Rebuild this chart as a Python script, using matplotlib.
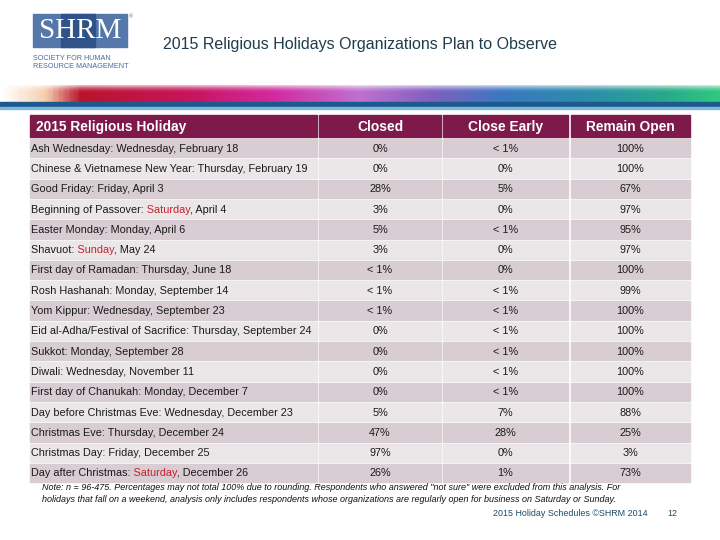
import matplotlib
matplotlib.use('Agg')

import numpy as np
import matplotlib.pyplot as plt
from matplotlib.patches import Rectangle
from matplotlib.colors import LinearSegmentedColormap
from matplotlib.transforms import Bbox, TransformedBbox

plt.rcParams['font.family'] = ['Liberation Sans', 'DejaVu Sans']

title = "2015 Religious Holidays Organizations Plan to Observe"
columns = ["2015 Religious Holiday", "Closed", "Close Early", "Remain Open"]

# holiday label split as (name, weekday, date); weekend days are shown in red
holiday_names = [
    "Ash Wednesday: ", "Chinese & Vietnamese New Year: ", "Good Friday: ",
    "Beginning of Passover: ", "Easter Monday: ", "Shavuot: ",
    "First day of Ramadan: ", "Rosh Hashanah: ", "Yom Kippur: ",
    "Eid al-Adha/Festival of Sacrifice: ", "Sukkot: ", "Diwali: ",
    "First day of Chanukah: ", "Day before Christmas Eve: ", "Christmas Eve: ",
    "Christmas Day: ", "Day after Christmas: ",
]
weekdays = [
    "Wednesday", "Thursday", "Friday", "Saturday", "Monday", "Sunday",
    "Thursday", "Monday", "Wednesday", "Thursday", "Monday", "Wednesday",
    "Monday", "Wednesday", "Thursday", "Friday", "Saturday",
]
dates = [
    ", February 18", ", February 19", ", April 3", ", April 4", ", April 6",
    ", May 24", ", June 18", ", September 14", ", September 23",
    ", September 24", ", September 28", ", November 11", ", December 7",
    ", December 23", ", December 24", ", December 25", ", December 26",
]
closed = ["0%", "0%", "28%", "3%", "5%", "3%", "< 1%", "< 1%", "< 1%", "0%",
          "0%", "0%", "0%", "5%", "47%", "97%", "26%"]
close_early = ["< 1%", "0%", "5%", "0%", "< 1%", "0%", "0%", "< 1%", "< 1%",
               "< 1%", "< 1%", "< 1%", "< 1%", "7%", "28%", "0%", "1%"]
remain_open = ["100%", "100%", "67%", "97%", "95%", "97%", "100%", "99%",
               "100%", "100%", "100%", "100%", "100%", "88%", "25%", "3%", "73%"]

note = ("Note: n = 96-475. Percentages may not total 100% due to rounding. Respondents who answered \"not sure\" were excluded from this analysis. For\n"
        "holidays that fall on a weekend, analysis only includes respondents whose organizations are regularly open for business on Saturday or Sunday.")
footer = "2015 Holiday Schedules \u00a9SHRM 2014"
page = "12"

fig = plt.figure(figsize=(7.2, 5.4), dpi=100)
ax = fig.add_axes([0, 0, 1, 1])
ax.set_xlim(0, 720)
ax.set_ylim(540, 0)
ax.axis('off')
renderer = fig.canvas.get_renderer()

# logo
ax.add_patch(Rectangle((33, 14), 94, 33, color='#5577aa'))
ax.add_patch(Rectangle((61, 14), 34, 33, color='#2f5289'))
ax.text(80, 31.5, "SHRM", color='white', fontsize=21, family='Liberation Serif',
        ha='center', va='center')
ax.text(129, 17, "\u00ae", color='#5577aa', fontsize=4, ha='left', va='center')
ax.text(33, 58, "SOCIETY FOR HUMAN", color='#4a6aa0', fontsize=5.2, va='center')
ax.text(33, 67, "RESOURCE MANAGEMENT", color='#4a6aa0', fontsize=5.2, va='center')

ax.text(163, 44, title, color='#1e3d4d', fontsize=11.5, va='center')

# coloured banner
banner_cols = [(0.0, '#ffffff'), (0.06, '#f6d0b0'), (0.11, '#b8142c'),
               (0.26, '#c8145c'), (0.38, '#d22aa0'), (0.50, '#c070d0'),
               (0.60, '#8060c0'), (0.70, '#3a78c0'), (0.83, '#2a90a8'),
               (0.93, '#28aa8a'), (1.0, '#30c880')]
cmap = LinearSegmentedColormap.from_list('banner', banner_cols)
gx = np.linspace(0, 1, 400)
gy = np.linspace(0, 1, 40)[:, None]
img = cmap(gx)[None, :, :3] * np.ones((40, 1, 1))
fade = np.clip(1 - gy / 0.45, 0, 1) ** 2 * 0.75
img = img * (1 - fade[..., None]) + fade[..., None]
ax.imshow(img, extent=(0, 720, 103, 85), aspect='auto', zorder=1)
ax.add_patch(Rectangle((0, 102), 720, 5, color='#1d5a8e', zorder=2))
ax.add_patch(Rectangle((0, 107), 720, 1.5, color='#7fb8d8', zorder=2))

# table geometry
col_left = [30, 319, 443, 571]
col_right = [317, 441, 568, 690]
head_top, head_h = 115, 22
row_top0, row_pitch, row_h = 139, 20.3, 18.3
fs = 7.8
black, red = '#1a1a1a', '#c8202c'

for c, name in enumerate(columns):
    ax.add_patch(Rectangle((col_left[c], head_top), col_right[c] - col_left[c],
                           head_h, color='#7d1a4b'))
    if c == 0:
        ax.text(col_left[c] + 6, head_top + head_h / 2 + 1, name, color='white',
                fontsize=9.9, fontweight='bold', va='center', ha='left')
    else:
        ax.text((col_left[c] + col_right[c]) / 2, head_top + head_h / 2 + 1, name,
                color='white', fontsize=9.9, fontweight='bold', va='center',
                ha='center')


def width(s):
    t = ax.text(0, 0, s, fontsize=fs)
    w = t.get_window_extent(renderer).width
    t.remove()
    return w


values = [closed, close_early, remain_open]
for r in range(len(holiday_names)):
    top = row_top0 + r * row_pitch
    fc = '#d8cdd2' if r % 2 == 0 else '#ebe6e8'
    for c in range(4):
        ax.add_patch(Rectangle((col_left[c], top), col_right[c] - col_left[c],
                               row_h, color=fc))
    yb = top + row_h / 2 + 3.5
    x0 = col_left[0] + 1
    label = holiday_names[r] + weekdays[r] + dates[r]
    if weekdays[r] in ("Saturday", "Sunday"):
        # same string drawn three times, clipped so the weekday shows in red
        xa = x0 + width(holiday_names[r].rstrip()) + 1.5
        xb = x0 + width(holiday_names[r] + weekdays[r]) + 0.5
        spans = [(x0 - 5, xa, black), (xa, xb, red), (xb, col_right[0], black)]
        for a, b, color in spans:
            t = ax.text(x0, yb, label, color=color, fontsize=fs,
                        va='baseline', ha='left')
            box = TransformedBbox(Bbox([[a, top], [b, top + row_h]]),
                                  ax.transData)
            t.set_clip_box(box)
            t.set_clip_on(True)
    else:
        ax.text(x0, yb, label, color=black, fontsize=fs, va='baseline',
                ha='left')
    for c in range(3):
        ax.text((col_left[c + 1] + col_right[c + 1]) / 2, yb, values[c][r],
                color=black, fontsize=fs, va='baseline', ha='center')

ax.text(42, 483, note, color='#111111', fontsize=6.5, style='italic',
        va='top', ha='left', linespacing=1.4)
ax.text(493, 514, footer, color='#1e4a66', fontsize=6.4, va='center', ha='left')
ax.text(672, 514, page, color='#1e4a66', fontsize=6.4, va='center', ha='center')

plt.savefig('out.png', dpi=100)
